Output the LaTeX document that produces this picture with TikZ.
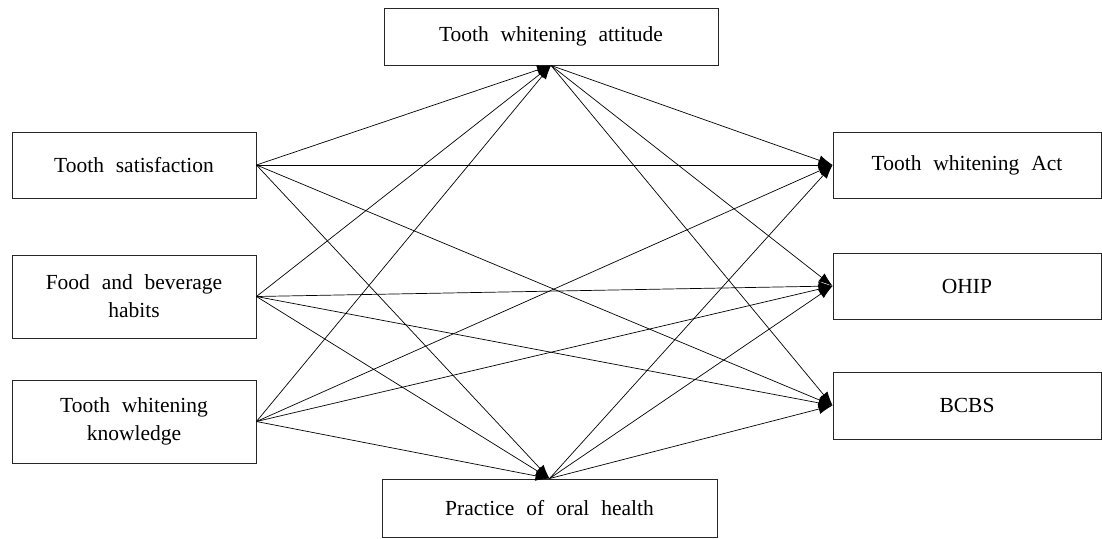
\documentclass[tikz,border=0pt]{standalone}
\usepackage{fontspec}
\setmainfont{Liberation Serif}
\usetikzlibrary{arrows.meta}
\begin{document}
\begin{tikzpicture}[x=1pt,y=-1pt,
  box/.style={draw=black!85, line width=0.9pt, rectangle, inner sep=0pt, align=center,
    font={\fontsize{21.5}{28}\selectfont\spaceskip=0.55em plus 0.1em\relax}},
  link/.style={line width=0.7pt, -{Latex[length=14pt,width=10pt]}}]
\useasboundingbox (0,0) rectangle (1102,538);
% top and bottom
\node[box, minimum width=334pt, minimum height=57pt] (att) at (551,36.5) {Tooth whitening attitude};
\node[box, minimum width=335pt, minimum height=58pt] (prac) at (549.5,508) {Practice of oral health};
% left
\node[box, minimum width=244pt, minimum height=66pt] (sat) at (134,165) {Tooth satisfaction};
\node[box, minimum width=244pt, minimum height=83pt] (food) at (134,296.5) {Food and beverage\\habits};
\node[box, minimum width=244pt, minimum height=83pt] (know) at (134,421.5) {Tooth whitening\\knowledge};
% right
\node[box, minimum width=268pt, minimum height=66pt] (act) at (967,165) {Tooth whitening Act};
\node[box, minimum width=268pt, minimum height=66pt] (ohip) at (967,286) {OHIP};
\node[box, minimum width=268pt, minimum height=67pt] (bcbs) at (967,405.5) {BCBS};
% connectors
\draw[link] (sat.east) -- (att.south);
\draw[link] (sat.east) -- (act.west);
\draw[link] (sat.east) -- (bcbs.west);
\draw[link] (sat.east) -- (prac.north);
\draw[link] (food.east) -- (att.south);
\draw[link] (food.east) -- (ohip.west);
\draw[link] (food.east) -- (bcbs.west);
\draw[link] (food.east) -- (prac.north);
\draw[link] (know.east) -- (att.south);
\draw[link] (know.east) -- (act.west);
\draw[link] (know.east) -- (ohip.west);
\draw[link] (know.east) -- (prac.north);
\draw[link] (att.south) -- (act.west);
\draw[link] (att.south) -- (ohip.west);
\draw[link] (att.south) -- (bcbs.west);
\draw[link] (prac.north) -- (act.west);
\draw[link] (prac.north) -- (ohip.west);
\draw[link] (prac.north) -- (bcbs.west);
\end{tikzpicture}
\end{document}
